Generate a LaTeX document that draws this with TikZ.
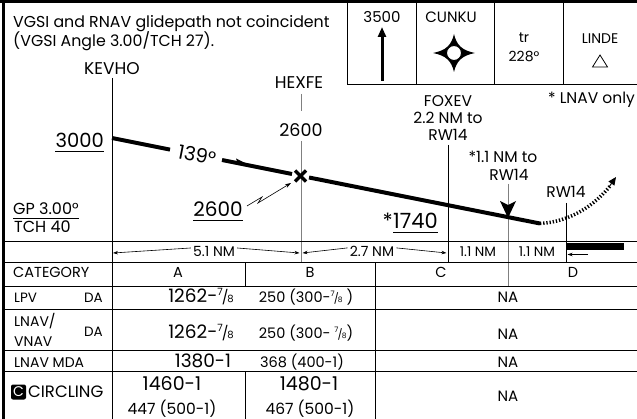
\documentclass[tikz,border=0pt]{standalone}
\usepackage{fontspec}
\setmainfont{Poppins}
\usetikzlibrary{arrows.meta,calc}
\newcommand\fsz[1]{\fontsize{#1}{#1}\selectfont}
\newcommand\svfrac[2]{\raisebox{0.42em}{\fsz{#1}7}\kern-0.06em{\fsz{#2}/}\kern-0.06em{\fsz{#1}8}}
\begin{document}
\begin{tikzpicture}[x=1pt,y=-1pt,
  txt/.style={inner sep=0pt,font=\fsz{#1}},
  rule/.style={line width=0.8pt},
  trule/.style={line width=1pt},
  glide/.style={line width=4pt},
  dim/.style={line width=0.6pt,-{Stealth[length=5pt,width=3.5pt]}},
  uline/.style={line width=1pt}]
\useasboundingbox (0,0) rectangle (637,419);
\fill[white] (0,0) rectangle (637,419);
% outer border
\draw[line width=3pt] (0,2) -- (637,2);
\draw[line width=3pt] (3.5,0) -- (3.5,419);
% header
\node[txt=15.8,anchor=base west] (h1) at (13,27.5) {VGSI and RNAV glidepath not coincident};
\node[txt=15.8,anchor=base west] (h2) at (13,47) {(VGSI Angle 3.00/TCH 27).};
% top right boxes
\draw[trule] (347,3) -- (347,85) -- (637,85);
\draw[trule] (416,3) -- (416,85);
\draw[trule] (494,3) -- (494,85);
\draw[trule] (563,3) -- (563,85);
\node[txt=15,anchor=base] (alt) at (382,23) {3500};
\coordinate (altb) at (382,81);
\coordinate (altt) at (382,27);
\draw[line width=3pt,-{Triangle[length=10pt,width=8pt]}] (altb) -- (altt);
\node[txt=15,anchor=base] (cunku) at (451,23) {CUNKU};
\begin{scope}[shift={(454,53)}]
\fill (0,-19) .. controls (2.5,-8) and (8,-2.5) .. (21,0) .. controls (8,2.5) and (2.5,8) .. (0,19)
  .. controls (-2.5,8) and (-8,2.5) .. (-21,0) .. controls (-8,-2.5) and (-2.5,-8) .. (0,-19) -- cycle;
\filldraw[fill=white,line width=1pt] (0,0) circle (7.5);
\end{scope}
\node[txt=14,anchor=base] (tr) at (524,43) {tr};
\node[txt=14,anchor=base] (hdg) at (524,62) {228°};
\node[txt=14,anchor=base] (linde) at (600,44) {LINDE};
\draw[line width=0.8pt] (592.5,67) -- (607.5,67) -- (600,55) -- cycle;
\node[txt=15.5,anchor=base east] (lnavonly) at (635,104) {* LNAV only};
% fixes
\node[txt=17,anchor=base] (kevho) at (112,75) {KEVHO};
\node[txt=17,anchor=base] (hexfe) at (299,89) {HEXFE};
\node[txt=17.5,anchor=base] (alt2600) at (301,137) {2600};
\node[txt=15.5,anchor=base] (foxev) at (448,107) {FOXEV};
\node[txt=15.5,anchor=base] (foxev2) at (448,124) {2.2 NM to};
\node[txt=15.5,anchor=base] (foxev3) at (448,141) {RW14};
\node[txt=15.5,anchor=base] (mapt) at (503,163) {*1.1 NM to};
\node[txt=15.5,anchor=base] (mapt2) at (509,181) {RW14};
\node[txt=15.5,anchor=base] (rw) at (566,198) {RW14};
% verticals
\draw[rule] (112,78) -- (112,419);
\draw[rule,gray] (301,94) -- (301,111);
\draw[rule,gray] (301,141) -- (301,263);
\draw[rule] (448,145) -- (448,263);
\draw[rule] (566,203) -- (566,263);
\draw[rule,gray] (508,184) -- (508,287);
\fill (500,201) -- (508,205) -- (516,201) -- (508,218) -- cycle;
% glide path
\coordinate (p0) at (112,138);
\coordinate (p1) at (170,149.6);
\coordinate (p2) at (222,160);
\coordinate (p3) at (292,174);
\coordinate (fx) at (300.5,176);
\coordinate (p4) at (309,177.5);
\coordinate (p5) at (540,223.5);
\draw[glide] (p0) -- (p1);
\draw[glide] (p2) -- (p3);
\draw[glide] (p4) -- (p5);
\fill (236,158.5) -- (252,166.5) -- (238,164) -- cycle;
\node[txt=19.5,rotate=-11.3] (crs) at (197,155) {139°};
\draw[line width=3.2pt] ($(fx)+(-5.5,-5.5)$) -- ($(fx)+(5.5,5.5)$);
\draw[line width=3.2pt] ($(fx)+(-5.5,5.5)$) -- ($(fx)+(5.5,-5.5)$);
\draw[line width=3.5pt,dash pattern=on 1.3pt off 1.9pt] (p5) .. controls (570,222) and (595,205) .. (610,186);
\coordinate (mt) at (609,187);
\coordinate (mtip) at (616,177);
\draw[-{Triangle[length=8pt,width=7pt]},line width=1pt] (mt) -- (mtip);
% altitudes
\node[txt=19.5,anchor=base east] (a3000) at (104,148) {3000};
\draw[uline] ($(a3000.base west)+(0,4)$) -- ($(a3000.base east)+(0,4)$);
\node[txt=20,anchor=base] (a2600) at (218,217) {2600};
\draw[uline] ($(a2600.base west)+(0,4)$) -- ($(a2600.base east)+(0,4)$);
\coordinate (z0) at (247,206);
\coordinate (z1) at (262,197);
\coordinate (z2) at (258,203);
\coordinate (z3) at (291,183);
\draw[line width=0.6pt,-{Stealth[length=6pt,width=4pt]}] (z0) -- (z1) -- (z2) -- (z3);
\node[txt=21,anchor=base west] (a1740) at (393,229) {1740};
\node[txt=21,anchor=base east] (ast) at (a1740.base west) {*};
\draw[uline] ($(a1740.base west)+(0,4)$) -- ($(a1740.base east)+(0,4)$);
\node[txt=16,anchor=base west] (gp) at (13,215) {GP 3.00°};
\draw[uline] ($(gp.base west)+(0,4)$) -- ($(gp.base east)+(0,4)$);
\node[txt=16,anchor=base west] (tch) at (14,233) {TCH 40};
% distance row
\draw[trule] (4,242) -- (637,242);
\draw[trule] (4,263) -- (637,263);
\fill (566,243) rectangle (624,250);
\node[txt=14,anchor=base] (d51) at (214,257) {5.1 NM};
\draw[dim] (d51.west) ++(-2,-4) -- (113,253);
\draw[dim] (d51.east) ++(2,-4) -- (299.5,253);
\node[txt=14,anchor=base] (d27) at (372,257) {2.7 NM};
\draw[dim] (d27.west) ++(-2,-4) -- (302.5,253);
\draw[dim] (d27.east) ++(2,-4) -- (446.5,253);
\node[txt=13.5,anchor=base] (d11a) at (478,257) {1.1 NM};
\node[txt=13.5,anchor=base] (d11b) at (537,257) {1.1 NM};
\coordinate (thr0) at (588,254.5);
\coordinate (thr1) at (567.5,254.5);
\draw[dim] (thr0) -- (thr1);
% table lines
\draw[trule] (4,287) -- (637,287);
\draw[trule] (4,310) -- (637,310);
\draw[trule] (4,351) -- (637,351);
\draw[trule] (4,372) -- (637,372);
\draw[trule] (245,263) -- (245,287);
\draw[trule] (245,372) -- (245,419);
\draw[trule] (375,263) -- (375,419);
% table text
\node[txt=14.5,anchor=base west] (cat) at (13,278) {CATEGORY};
\node[txt=14.5,anchor=base] (ca) at (178,278) {A};
\node[txt=14.5,anchor=base] (cb) at (310,278) {B};
\node[txt=14.5,anchor=base] (cc) at (441,278) {C};
\node[txt=14.5,anchor=base] (cd) at (573,278) {D};
\node[txt=13.5,anchor=base west] (lpv) at (14,303) {LPV};
\node[txt=13.5,anchor=base east] (lpvda) at (103,303) {DA};
\node[txt=18.5,anchor=base] (lpva) at (201,303) {1262-\svfrac{10}{14}};
\node[txt=14.5,anchor=base] (lpvb) at (306,303) {250 (300-\svfrac{7.5}{10.5} )};
\node[txt=15,anchor=base] (lpvc) at (508,303) {NA};
\node[txt=14,anchor=base west] (lv1) at (14,327) {LNAV/};
\node[txt=14,anchor=base west] (lv2) at (14,347) {VNAV};
\node[txt=13.5,anchor=base east] (lvda) at (103,337) {DA};
\node[txt=18.5,anchor=base] (lva) at (201,339) {1262-\svfrac{10}{14}};
\node[txt=14.5,anchor=base] (lvb) at (306,339) {250 (300- \svfrac{7.5}{10.5})};
\node[txt=15,anchor=base] (lvc) at (508,340) {NA};
\node[txt=14,anchor=base west] (mda) at (14,367) {LNAV MDA};
\node[txt=18.5,anchor=base] (mdaa) at (203,368) {1380-1};
\node[txt=14.5,anchor=base] (mdab) at (302,368) {368 (400-1)};
\node[txt=15,anchor=base] (mdac) at (508,368) {NA};
\node[fill=black,text=white,rounded corners=2pt,inner sep=0pt,minimum width=15pt,minimum height=15pt,font=\fsz{14}] (cic) at (18.5,392) {C};
\node[txt=16.5,anchor=base west] (circ) at (28,397.5) {CIRCLING};
\node[txt=19,anchor=base] (cira) at (172,390) {1460-1};
\node[txt=15.5,anchor=base] (cira2) at (172,414) {447 (500-1)};
\node[txt=19,anchor=base] (cirb) at (309,390) {1480-1};
\node[txt=15.5,anchor=base] (cirb2) at (310,414) {467 (500-1)};
\node[txt=15,anchor=base] (circc) at (508,401) {NA};
\end{tikzpicture}
\end{document}
